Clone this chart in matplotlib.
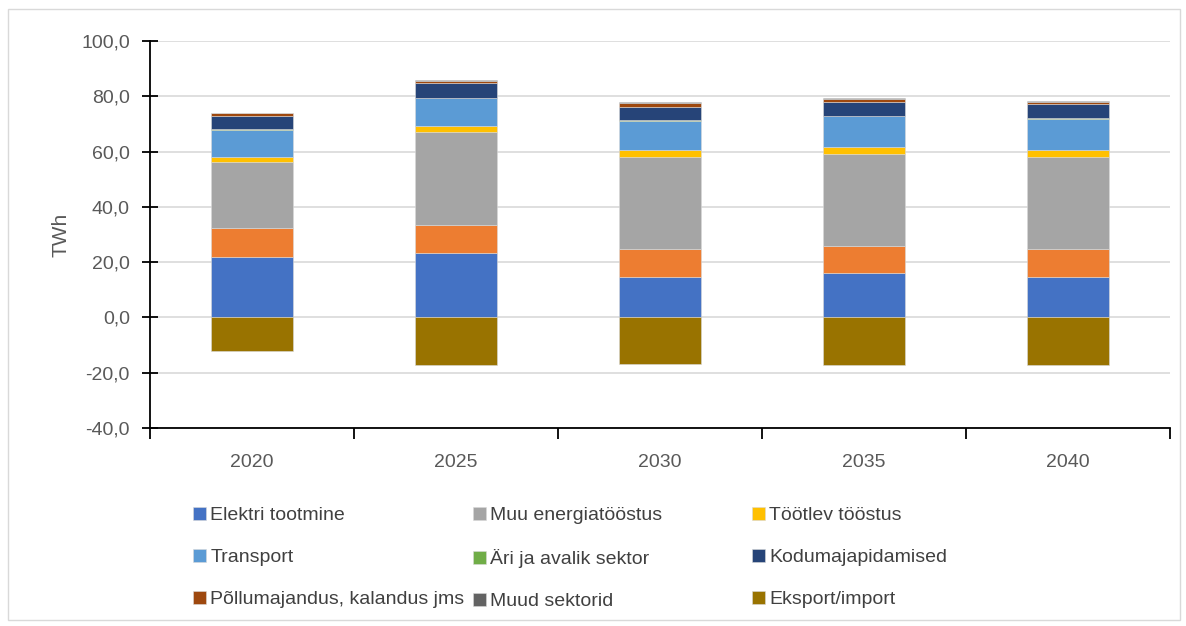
import numpy as np
import matplotlib
matplotlib.use('Agg')
import matplotlib.pyplot as plt
from matplotlib.patches import Rectangle
from matplotlib.ticker import FuncFormatter

plt.rcParams['font.family'] = ['Liberation Sans', 'DejaVu Sans']

# Data (TWh)
years = ['2020', '2025', '2030', '2035', '2040']
elektri = [21.8, 23.4, 14.7, 15.9, 14.8]
orange_seg = [10.6, 10.2, 10.2, 10.1, 10.1]   # series without legend entry
muu_energia = [23.7, 33.3, 33.2, 33.2, 33.3]
tootlev = [2.0, 2.4, 2.4, 2.3, 2.4]
transport = [9.7, 10.0, 10.6, 11.2, 11.2]
ari = [0.2, 0.2, 0.3, 0.3, 0.3]
kodu = [5.0, 5.2, 4.9, 4.9, 5.1]
pollu = [0.8, 0.9, 1.4, 1.0, 0.9]
muud = [0.3, 0.3, 0.4, 0.4, 0.3]
eksport = [-12.2, -17.3, -16.8, -17.2, -17.3]

series = [
    ('Elektri tootmine', elektri, '#4472C4'),
    (None, orange_seg, '#ED7D31'),
    ('Muu energiatööstus', muu_energia, '#A5A5A5'),
    ('Töötlev tööstus', tootlev, '#FFC000'),
    ('Transport', transport, '#5B9BD5'),
    ('Äri ja avalik sektor', ari, '#70AD47'),
    ('Kodumajapidamised', kodu, '#264478'),
    ('Põllumajandus, kalandus jms', pollu, '#9E480E'),
    ('Muud sektorid', muud, '#636363'),
]

fig = plt.figure(figsize=(11.86, 6.26), dpi=100)
ax = fig.add_axes([0.1265, 0.3163, 0.86, 0.6182])

x = np.arange(len(years))
width = 0.4
bottom = np.zeros(len(years))
handles = {}
for name, vals, col in series:
    b = ax.bar(x, vals, width, bottom=bottom, color=col, zorder=3,
               edgecolor='#d9d9d9', linewidth=0.4)
    if name:
        handles[name] = b
    bottom += np.array(vals)
handles['Eksport/import'] = ax.bar(x, eksport, width, color='#997300', zorder=3,
                                   edgecolor='#d9d9d9', linewidth=0.4)

ax.set_xlim(-0.5, len(years) - 0.5)
ax.set_ylim(-40, 100)
ax.set_yticks(np.arange(-40, 101, 20))
ax.yaxis.set_major_formatter(FuncFormatter(lambda v, p: f'{v:.1f}'.replace('.', ',')))
ax.grid(axis='y', color='#d9d9d9', linewidth=1.2, zorder=0)

ax.set_xticks(x)
ax.set_xticklabels(years)
ax.set_xticks(np.arange(-0.5, len(years)), minor=True)
ax.tick_params(axis='x', which='major', length=0, pad=19, labelsize=14, labelcolor='#595959')
ax.tick_params(axis='x', which='minor', length=8, width=1.3, direction='out', color='black')
ax.tick_params(axis='y', length=11, width=1.3, direction='inout', labelsize=14,
               labelcolor='#595959', pad=9)

for s in ['top', 'right']:
    ax.spines[s].set_visible(False)
ax.spines['left'].set_linewidth(1.3)
ax.spines['bottom'].set_linewidth(1.3)

ax.set_ylabel('TWh', fontsize=15, color='#595959', labelpad=8)

# legend laid out as three fixed columns
columns = [
    ['Elektri tootmine', 'Transport', 'Põllumajandus, kalandus jms'],
    ['Muu energiatööstus', 'Äri ja avalik sektor', 'Muud sektorid'],
    ['Töötlev tööstus', 'Kodumajapidamised', 'Eksport/import'],
]
col_x = [0.1627, 0.3988, 0.634]
for cx, names in zip(col_x, columns):
    fig.legend([handles[k] for k in names], names, loc='upper left',
               bbox_to_anchor=(cx, 0.190), frameon=False, fontsize=14,
               handlelength=0.65, handleheight=0.65, handletextpad=0.25,
               labelspacing=1.27, borderpad=0, borderaxespad=0,
               labelcolor='#404040')

fig.patches.append(Rectangle((0.007, 0.01), 0.988, 0.975, transform=fig.transFigure,
                             fill=False, edgecolor='#d9d9d9', linewidth=1))

fig.savefig('out.png', dpi=100)
